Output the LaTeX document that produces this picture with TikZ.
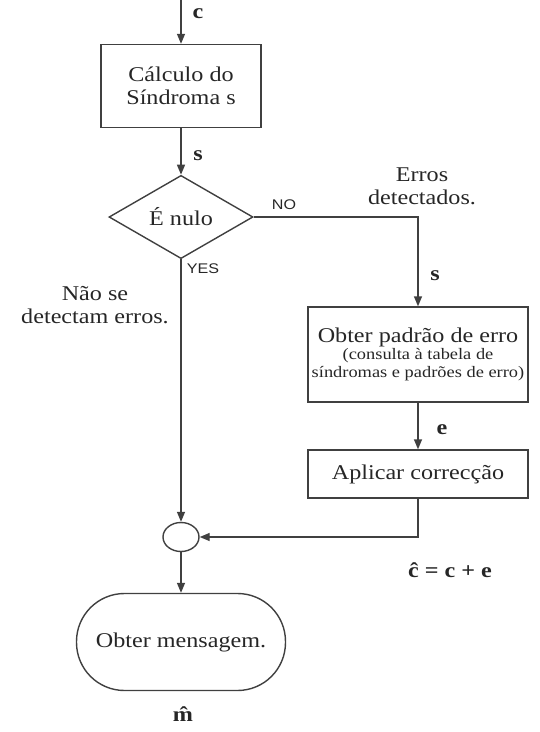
\documentclass[tikz,border=0pt]{standalone}
\usepackage{fontspec}
\setmainfont{Liberation Serif}[FakeStretch=1.15]
\newfontfamily\labsans{Liberation Sans}[FakeStretch=1.15]
\usetikzlibrary{shapes.geometric,arrows.meta}
\begin{document}
\begin{tikzpicture}[x=1pt,y=-1pt,
  every node/.style={text=black!85},
  big/.style={font=\fontsize{21}{23}\selectfont},
  lbl/.style={font=\fontsize{21}{23}\selectfont\bfseries, anchor=base},
  sans/.style={font=\fontsize{14}{16}\selectfont\labsans, anchor=base},
  line/.style={draw=black!75, line width=1.4pt},
  arr/.style={line, -{Triangle[length=10pt,width=8pt]}},
  box/.style={line, rectangle, inner sep=0pt, big, align=center}]
\useasboundingbox (0,0) rectangle (540,732);
\coordinate (top) at (181,0);
\node[box, minimum width=160, minimum height=83] (calc) at (181,86) {Cálculo do\\Síndroma s};
\node[line, diamond, inner sep=0pt, minimum width=144, minimum height=70, big] (dec) at (181,217) {\raisebox{1.5pt}{É nulo}};
\node[box, minimum width=220, minimum height=95, font=\fontsize{16}{18}\selectfont] (pad) at (418,354.5)
  {{\fontsize{21}{23}\selectfont Obter padrão de erro}\\[-1pt] (consulta à tabela de\\ síndromas e padrões de erro)};
\node[box, minimum width=220, minimum height=48] (apl) at (418,474) {Aplicar correcção};
\node[line, ellipse, inner sep=0pt, minimum width=36, minimum height=29] (sum) at (181,537) {};
\node[line, rectangle, rounded corners=48pt, minimum width=209, minimum height=97, big, inner sep=0pt] (msg) at (181,642) {Obter mensagem.};

\draw[arr] (top) -- (calc.north);
\draw[arr] (calc.south) -- (dec.north);
\draw[arr] (dec.east) -| (pad.north);
\draw[arr] (dec.south) -- (sum.north);
\draw[arr] (pad.south) -- (apl.north);
\draw[arr] (apl.south) |- (sum.east);
\draw[arr] (sum.south) -- (msg.north);

\node[lbl] (lc) at (198,18) {c};
\node[lbl] (ls1) at (198,160) {s};
\node[lbl] (ls2) at (435,280) {s};
\node[lbl] (le) at (442,434) {e};
\node[sans] (lno) at (284,209) {NO};
\node[sans] (lyes) at (203,273) {YES};
\node[big, align=center] (err) at (422,186.5) {Erros\\detectados.};
\node[big, align=center] (nerr) at (95,305) {Não se\\detectam erros.};
\node[lbl] (chat) at (450,577) {\^{c} = c + e};
\node[lbl] (mhat) at (183,721) {\^{m}};
\end{tikzpicture}
\end{document}
